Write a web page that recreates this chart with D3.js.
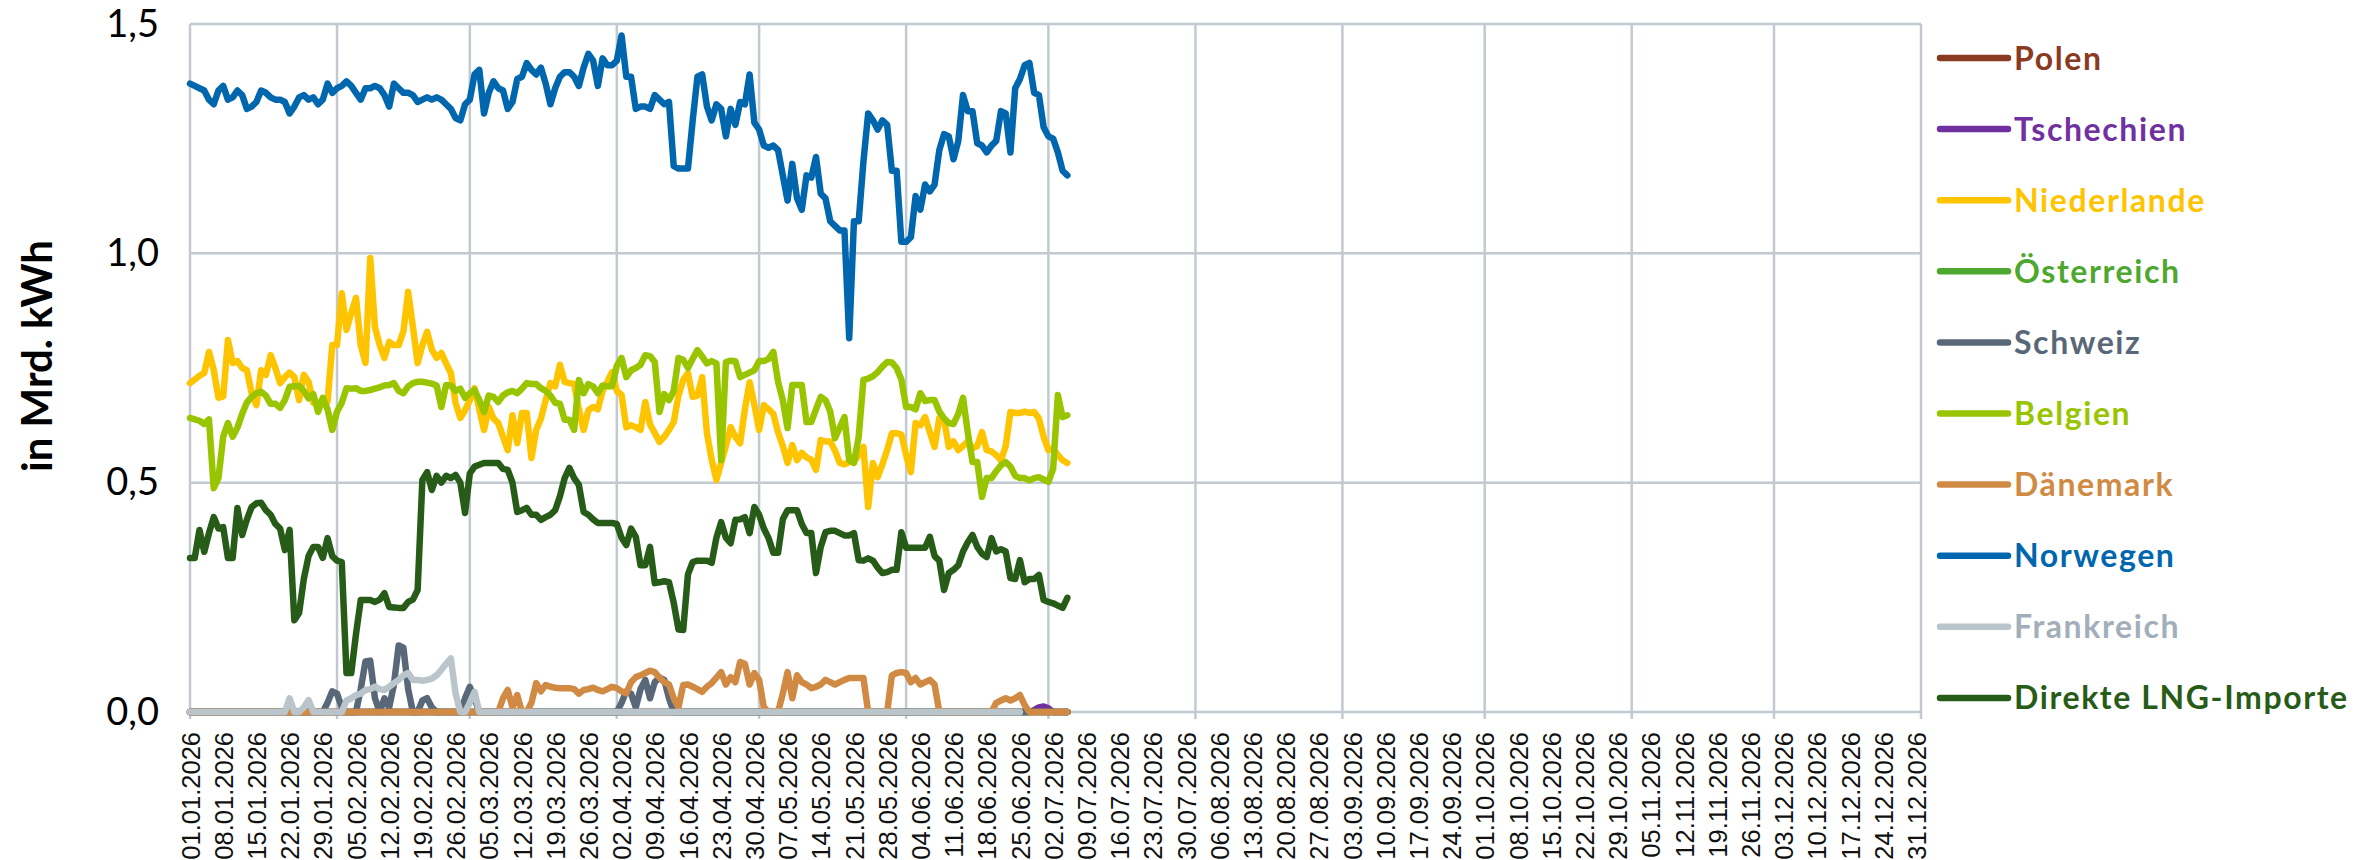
<!DOCTYPE html>
<html>
<head>
<meta charset="utf-8">
<script src="https://cdn.jsdelivr.net/npm/d3@7"></script>
<style>
  body { margin: 0; background: #fff; }
  svg { display: block; }
</style>
</head>
<body>
<div id="chart"></div>
<script>
// daily values in Mrd. kWh, starting 01.01.2026
var startDate = new Date(2026, 0, 1);
var endDate = new Date(2027, 0, 1);

var seriesNames = ["Polen", "Tschechien", "Niederlande", "Österreich", "Schweiz",
  "Belgien", "Dänemark", "Norwegen", "Frankreich", "Direkte LNG-Importe"];
var seriesColors = ["#8B3A22", "#7030A0", "#FFC400", "#4EA72E", "#596878",
  "#98C400", "#D08A44", "#0066AD", "#BAC4CB", "#275C18"];
var legendTextColors = ["#8B3A22", "#7030A0", "#FFC400", "#4EA72E", "#596878",
  "#98C400", "#D08A44", "#0066AD", "#A2AFBA", "#275C18"];

var yTicks = [0, 0.5, 1.0, 1.5];

var polen = [
  0,0,0,0,0,0,0,0,0,0, 0,0,0,0,0,0,0,0,0,0, 0,0,0,0,0,0,0,0,0,0,
  0,0,0,0,0,0,0,0,0,0, 0,0,0,0,0,0,0,0,0,0, 0,0,0,0,0,0,0,0,0,0,
  0,0,0,0,0,0,0,0,0,0, 0,0,0,0,0,0,0,0,0,0, 0,0,0,0,0,0,0,0,0,0,
  0,0,0,0,0,0,0,0,0,0, 0,0,0,0,0,0,0,0,0,0, 0,0,0,0,0,0,0,0,0,0,
  0,0,0,0,0,0,0,0,0,0, 0,0,0,0,0,0,0,0,0,0, 0,0,0,0,0,0,0,0,0,0,
  0,0,0,0,0,0,0,0,0,0, 0,0,0,0,0,0,0,0,0,0, 0,0,0,0,0,0,0,0,0,0,
  0,0,0,0,0,0
];
var tschechien = [
  0,0,0,0,0,0,0,0,0,0, 0,0,0,0,0,0,0,0,0,0, 0,0,0,0,0,0,0,0,0,0,
  0,0,0,0,0,0,0,0,0,0, 0,0,0,0,0,0,0,0,0,0, 0,0,0,0,0,0,0,0,0,0,
  0,0,0,0,0,0,0,0,0,0, 0,0,0,0,0,0,0,0,0,0, 0,0,0,0,0,0,0,0,0,0,
  0,0,0,0,0,0,0,0,0,0, 0,0,0,0,0,0,0,0,0,0, 0,0,0,0,0,0,0,0,0,0,
  0,0,0,0,0,0,0,0,0,0, 0,0,0,0,0,0,0,0,0,0, 0,0,0,0,0,0,0,0,0,0,
  0,0,0,0,0,0,0,0,0,0, 0,0,0,0,0,0,0,0,0,0, 0,0,0,0,0,0,0,0,0.004,0.01,
  0.012,0.008,0,0,0,0
];
var niederlande = [
  .717,.725,.733,.739,.785,.746,.685,.688,.811,.761,
  .765,.75,.745,.695,.669,.745,.735,.778,.75,.717,
  .73,.74,.73,.68,.735,.72,.674,.674,.674,.676,
  .80,.80,.913,.833,.87,.903,.80,.761,.99,.839,
  .80,.772,.807,.80,.80,.83,.916,.84,.761,.80,
  .829,.79,.772,.783,.76,.739,.674,.641,.658,.68,
  .706,.66,.615,.665,.64,.63,.60,.571,.647,.586,
  .652,.652,.554,.615,.64,.68,.717,.71,.757,.72,
  .717,.715,.66,.615,.658,.665,.66,.70,.72,.741,
  .70,.691,.621,.625,.621,.615,.676,.627,.608,.589,
  .60,.615,.632,.69,.724,.739,.687,.69,.73,.608,
  .55,.506,.543,.58,.621,.60,.586,.66,.719,.67,
  .615,.669,.66,.65,.61,.58,.543,.582,.549,.565,
  .555,.55,.528,.593,.59,.59,.57,.543,.54,.545,
  .545,.56,.578,.447,.543,.512,.54,.571,.608,.608,
  .605,.56,.523,.63,.625,.643,.61,.578,.641,.638,
  .578,.59,.571,.58,.59,.575,.58,.61,.571,.568,
  .56,.549,.58,.654,.652,.652,.655,.652,.654,.64,
  .60,.571,.575,.56,.549,.543
];
var oesterreich = [
  0,0,0,0,0,0,0,0,0,0, 0,0,0,0,0,0,0,0,0,0, 0,0,0,0,0,0,0,0,0,0,
  0,0,0,0,0,0,0,0,0,0, 0,0,0,0,0,0,0,0,0,0, 0,0,0,0,0,0,0,0,0,0,
  0,0,0,0,0,0,0,0,0,0, 0,0,0,0,0,0,0,0,0,0, 0,0,0,0,0,0,0,0,0,0,
  0,0,0,0,0,0,0,0,0,0, 0,0,0,0,0,0,0,0,0,0, 0,0,0,0,0,0,0,0,0,0,
  0,0,0,0,0,0,0,0,0,0, 0,0,0,0,0,0,0,0,0,0, 0,0,0,0,0,0,0,0,0,0,
  0,0,0,0,0,0,0,0,0,0, 0,0,0,0,0,0,0,0,0,0, 0,0,0,0,0,0,0,0,0,0,
  0,0,0,0,0,0
];
var schweiz = [
  0,0,0,0,0,0,0,0,0,0,
  0,0,0,0,0,0,0,0,0,0,
  0,0,0,0,0,0,0,0,0,.02,
  .045,.04,.01,0,0,0,.05,.11,.112,.03,
  0,.03,.01,.06,.145,.14,.05,0,0,.025,
  .03,.01,0,0,0,0,0,0,.03,.055,
  .03,0,0,0,0,0,0,0,0,0,
  0,0,0,0,0,0,0,0,0,0,
  0,0,0,0,0,0,0,0,0,0,
  0,.02,.045,.04,.01,.05,.07,.03,.065,.075,
  .07,.03,0,0,0,0,0,0,0,0,
  0,0,0,0,0,0,0,0,0,0,
  0,0,0,0,0,0,0,0,0,0,
  0,0,0,0,0,0,0,0,0,0,
  0,0,0,0,0,0,0,0,0,0,
  0,0,0,0,0,0,0,0,0,0,
  0,0,0,0,0,0,0,0,0,0,
  0,0,0,0,0,0,0,0,0,0,
  0,0,0,0,0,0
];
var belgien = [
  .641,.638,.635,.628,.638,.488,.51,.60,.63,.60,
  .62,.65,.675,.687,.695,.698,.69,.672,.672,.663,
  .68,.709,.71,.711,.70,.684,.693,.654,.685,.66,
  .615,.655,.674,.706,.705,.706,.70,.70,.702,.705,
  .708,.712,.713,.717,.70,.695,.71,.717,.72,.72,
  .718,.716,.712,.665,.713,.712,.70,.705,.685,.695,
  .702,.68,.654,.69,.687,.676,.69,.697,.70,.695,
  .705,.717,.715,.715,.706,.70,.69,.674,.672,.637,
  .637,.615,.724,.695,.715,.71,.695,.712,.71,.71,
  .755,.772,.73,.745,.75,.757,.778,.776,.763,.654,
  .693,.68,.70,.772,.768,.75,.77,.789,.775,.76,
  .765,.76,.549,.763,.766,.765,.73,.735,.74,.745,
  .765,.765,.77,.785,.72,.68,.619,.713,.713,.713,
  .632,.632,.66,.687,.68,.655,.597,.62,.643,.549,
  .543,.60,.724,.727,.732,.741,.753,.763,.762,.75,
  .725,.665,.665,.66,.695,.678,.68,.68,.655,.64,
  .63,.628,.65,.685,.61,.545,.545,.469,.51,.51,
  .525,.538,.545,.535,.515,.51,.51,.505,.51,.512,
  .507,.502,.53,.691,.643,.647
];
var daenemark = [
  0,0,0,0,0,0,0,0,0,0,
  0,0,0,0,0,0,0,0,0,0,
  0,0,0,0,0,0,0,0,0,0,
  0,0,0,0,0,0,0,0,0,0,
  0,0,0,0,0,0,0,0,0,0,
  0,0,0,0,0,0,0,0,0,0,
  0,0,0,0,0,0,.03,.048,.01,.037,
  0,0,.02,.063,.045,.059,.055,.053,.052,.052,
  .052,.05,.04,.048,.05,.053,.048,.045,.05,.055,
  .052,.045,.041,.065,.076,.08,.085,.09,.087,.075,
  .065,.06,.03,.01,.059,.06,.055,.05,.044,.055,
  .063,.075,.087,.06,.076,.065,.109,.105,.06,.085,
  .07,.01,0,0,0,.04,.087,.03,.08,.065,
  .06,.052,.055,.06,.07,.065,.06,.065,.07,.074,
  .074,.074,.074,0,0,0,0,0,.08,.085,
  .087,.085,.065,.074,.06,.065,.07,.06,0,0,
  0,0,0,0,0,0,0,0,0,0,
  .02,.025,.03,.025,.03,.037,.015,0,0,0,
  0,0,0,0,0,0
];
var norwegen = [
  1.37,1.365,1.36,1.355,1.335,1.325,1.355,1.365,1.335,1.34,
  1.355,1.345,1.315,1.32,1.33,1.355,1.35,1.34,1.335,1.335,
  1.33,1.305,1.32,1.34,1.345,1.335,1.34,1.325,1.335,1.37,
  1.35,1.36,1.365,1.375,1.365,1.35,1.335,1.36,1.36,1.365,
  1.36,1.345,1.32,1.37,1.36,1.35,1.35,1.345,1.33,1.335,
  1.34,1.335,1.34,1.335,1.325,1.315,1.295,1.29,1.325,1.335,
  1.39,1.4,1.305,1.35,1.375,1.36,1.355,1.315,1.33,1.38,
  1.385,1.415,1.4,1.39,1.405,1.37,1.325,1.36,1.385,1.395,
  1.395,1.385,1.365,1.405,1.435,1.42,1.365,1.425,1.41,1.41,
  1.42,1.475,1.385,1.385,1.315,1.32,1.32,1.315,1.345,1.335,
  1.325,1.33,1.19,1.185,1.185,1.185,1.29,1.385,1.39,1.32,
  1.29,1.325,1.315,1.255,1.315,1.28,1.33,1.325,1.39,1.285,
  1.27,1.235,1.23,1.235,1.225,1.17,1.115,1.195,1.12,1.095,
  1.17,1.165,1.21,1.13,1.12,1.07,1.06,1.05,1.05,0.815,
  1.07,1.07,1.2,1.305,1.29,1.27,1.29,1.28,1.18,1.18,
  1.025,1.025,1.035,1.125,1.095,1.15,1.135,1.15,1.225,1.26,
  1.255,1.205,1.245,1.345,1.31,1.31,1.24,1.235,1.22,1.235,
  1.245,1.31,1.305,1.22,1.36,1.38,1.41,1.415,1.35,1.345,
  1.275,1.255,1.25,1.22,1.18,1.17
];
var frankreich = [
  0,0,0,0,0,0,0,0,0,0,
  0,0,0,0,0,0,0,0,0,0,
  0,.03,0,0,.01,.026,0,0,0,0,
  0,0,0,.025,.03,.037,.04,.048,.05,.055,
  .05,.048,.055,.063,.07,.08,.085,.07,.07,.068,
  .07,.073,.08,.092,.105,.117,.04,0,0,.02,
  .044,0,0,0,0,0,0,0,0,0,
  0,0,0,0,0,0,0,0,0,0, 0,0,0,0,0,0,0,0,0,0,
  0,0,0,0,0,0,0,0,0,0, 0,0,0,0,0,0,0,0,0,0,
  0,0,0,0,0,0,0,0,0,0, 0,0,0,0,0,0,0,0,0,0,
  0,0,0,0,0,0,0,0,0,0, 0,0,0,0,0,0,0,0,0,0,
  0,0,0,0,0,0,0,0,0,0, 0,0,0,0,0,0,0,0,0,0,
  0,0,0,0,0,0
];
var lng = [
  .336,.336,.397,.349,.39,.425,.40,.403,.336,.336,
  .445,.386,.42,.447,.455,.456,.44,.43,.41,.40,
  .353,.397,.20,.216,.29,.34,.36,.36,.336,.379,
  .34,.33,.327,.085,.085,.17,.244,.244,.244,.24,
  .245,.259,.229,.228,.227,.227,.24,.245,.266,.506,
  .523,.484,.515,.50,.515,.51,.517,.50,.434,.52,
  .535,.539,.543,.543,.543,.543,.53,.528,.50,.436,
  .44,.445,.43,.43,.419,.425,.43,.44,.47,.51,
  .532,.51,.495,.436,.43,.42,.412,.412,.412,.412,
  .41,.38,.364,.40,.382,.32,.32,.36,.281,.283,
  .285,.283,.238,.18,.179,.30,.327,.33,.33,.33,
  .325,.38,.414,.38,.368,.419,.42,.425,.39,.447,
  .43,.40,.379,.347,.347,.42,.44,.44,.44,.41,
  .39,.39,.303,.36,.392,.395,.395,.39,.385,.385,
  .39,.331,.33,.335,.33,.315,.303,.305,.31,.31,
  .392,.358,.358,.358,.358,.358,.382,.34,.33,.266,
  .303,.31,.32,.35,.37,.386,.36,.345,.338,.379,
  .35,.355,.35,.292,.29,.331,.283,.29,.29,.299,
  .244,.24,.237,.232,.227,.249
];

var seriesValues = [polen, tschechien, niederlande, oesterreich, schweiz,
  belgien, daenemark, norwegen, frankreich, lng];

// set the dimensions of the graph
var width = 2374, height = 860;
var margin = {top: 24, right: 453, bottom: 148, left: 190};
var plotW = width - margin.left - margin.right,
    plotH = height - margin.top - margin.bottom;

var svg = d3.select("#chart")
  .append("svg")
    .attr("width", width)
    .attr("height", height)
    .style("background", "#fff");

var g = svg.append("g")
  .attr("transform", "translate(" + margin.left + "," + margin.top + ")");

var x = d3.scaleTime().domain([startDate, endDate]).range([0, plotW]);
var y = d3.scaleLinear().domain([0, 1.5]).range([plotH, 0]);

var gridColor = "#C2CAD1";

// vertical grid lines on month starts, with small ticks under the axis
var months = d3.timeMonth.range(startDate, d3.timeDay.offset(endDate, 1));
g.append("g")
  .selectAll("line")
  .data(months)
  .enter()
  .append("line")
    .attr("x1", function(d) { return x(d); })
    .attr("x2", function(d) { return x(d); })
    .attr("y1", 0)
    .attr("y2", plotH + 7)
    .attr("stroke", gridColor)
    .attr("stroke-width", 2.5);

// horizontal grid lines
g.append("g")
  .selectAll("line")
  .data(yTicks)
  .enter()
  .append("line")
    .attr("x1", 0)
    .attr("x2", plotW)
    .attr("y1", function(d) { return y(d); })
    .attr("y2", function(d) { return y(d); })
    .attr("stroke", gridColor)
    .attr("stroke-width", 2.5);

// y axis labels with german decimal comma
var de = d3.formatLocale({decimal: ",", thousands: ".", grouping: [3], currency: ["", " €"]});
var yAxis = g.append("g")
  .call(d3.axisLeft(y).tickValues(yTicks).tickFormat(de.format(".1f")).tickSize(0).tickPadding(31));
yAxis.select(".domain").remove();
yAxis.selectAll("text")
  .style("font-family", "Lato, 'Open Sans', sans-serif")
  .style("font-size", "38px")
  .attr("fill", "#000");

// x axis: a label every 7 days
var weekTicks = d3.range(0, 365, 7).map(function(i) { return d3.timeDay.offset(startDate, i); });
var xAxis = g.append("g")
  .attr("transform", "translate(0," + plotH + ")")
  .call(d3.axisBottom(x).tickValues(weekTicks).tickFormat(d3.timeFormat("%d.%m.%Y")).tickSize(0));
xAxis.select(".domain").remove();
xAxis.selectAll("text")
  .style("font-family", "'Liberation Sans', Arial, sans-serif")
  .style("font-size", "25.5px")
  .attr("fill", "#111")
  .attr("text-anchor", "end")
  .attr("transform", "translate(0,20) rotate(-90)")
  .attr("x", 0)
  .attr("y", 0)
  .attr("dy", "0.36em");

// y axis title
svg.append("text")
  .attr("transform", "translate(52,356) rotate(-90)")
  .attr("text-anchor", "middle")
  .style("font-family", "Lato, 'Open Sans', sans-serif")
  .style("font-size", "42px")
  .style("font-weight", "bold")
  .text("in Mrd. kWh");

// the lines, drawn in legend order
var line = d3.line()
  .x(function(d, i) { return x(d3.timeDay.offset(startDate, i)); })
  .y(function(d) { return y(d); });

g.append("g")
  .selectAll("path")
  .data(seriesValues)
  .enter()
  .append("path")
    .attr("d", function(d) { return line(d); })
    .attr("fill", "none")
    .attr("stroke", function(d, i) { return seriesColors[i]; })
    .attr("stroke-width", 6.5)
    .attr("stroke-linejoin", "round")
    .attr("stroke-linecap", "round");

// legend
var legend = svg.append("g")
  .attr("transform", "translate(1940,58)");

var item = legend.selectAll("g")
  .data(seriesNames)
  .enter()
  .append("g")
    .attr("transform", function(d, i) { return "translate(0," + (i * 71.1) + ")"; });

item.append("line")
  .attr("x1", 0)
  .attr("x2", 68)
  .attr("stroke", function(d, i) { return seriesColors[i]; })
  .attr("stroke-width", 6.5)
  .attr("stroke-linecap", "round");

item.append("text")
  .attr("x", 74)
  .attr("dy", "0.36em")
  .style("font-family", "Lato, 'Open Sans', sans-serif")
  .style("font-size", "32px")
  .style("font-weight", "bold")
  .style("letter-spacing", "1.6px")
  .attr("fill", function(d, i) { return legendTextColors[i]; })
  .text(function(d) { return d; });
</script>
</body>
</html>
